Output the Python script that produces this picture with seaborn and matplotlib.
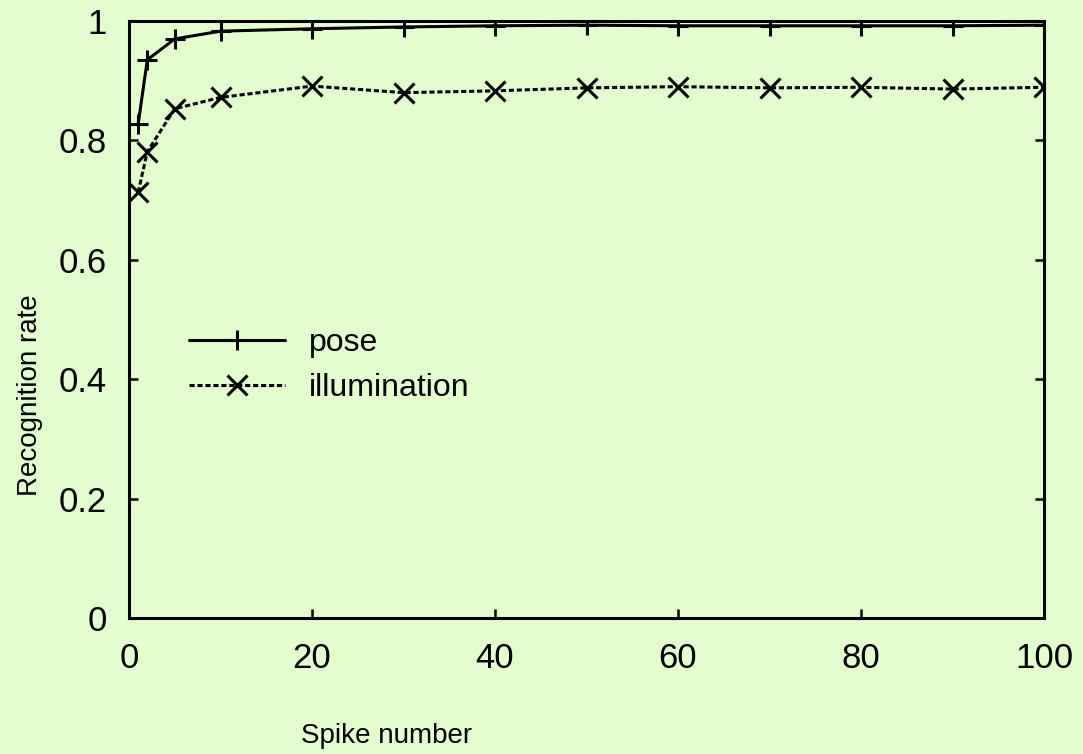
import pandas as pd
import matplotlib
matplotlib.use("Agg")
import matplotlib.pyplot as plt
import seaborn as sns

# values
spikes = [1, 2, 5, 10, 20, 30, 40, 50, 60, 70, 80, 90, 100]
pose = [0.827, 0.935, 0.970, 0.983, 0.987, 0.990, 0.992, 0.993, 0.992, 0.992, 0.992, 0.992, 0.993]
illumination = [0.713, 0.781, 0.853, 0.872, 0.891, 0.880, 0.883, 0.888, 0.890, 0.888, 0.889, 0.886, 0.889]
x_ticks = [0, 20, 40, 60, 80, 100]
y_ticks = [0, 0.2, 0.4, 0.6, 0.8, 1]
y_tick_labels = ["0", "0.2", "0.4", "0.6", "0.8", "1"]

bg = "#e4fdcf"

sns.set_style("ticks")
plt.rcParams["font.family"] = ["Liberation Sans", "DejaVu Sans"]
plt.rcParams["text.color"] = "black"
plt.rcParams["axes.labelcolor"] = "black"
plt.rcParams["xtick.color"] = "black"
plt.rcParams["ytick.color"] = "black"

df = pd.DataFrame({
    "spike": spikes * 2,
    "rate": pose + illumination,
    "series": ["pose"] * len(spikes) + ["illumination"] * len(spikes),
})

fig = plt.figure(figsize=(10.83, 7.54), dpi=100, facecolor=bg)
ax = fig.add_axes([129 / 1083, 1 - 618 / 754, 915 / 1083, 597 / 754])
ax.set_facecolor(bg)

sns.lineplot(data=df, x="spike", y="rate", style="series", hue="series",
             palette={"pose": "black", "illumination": "black"},
             dashes={"pose": "", "illumination": (1.7, 0.9)},
             markers={"pose": "+", "illumination": "x"},
             markersize=14, markeredgewidth=2.2, markeredgecolor="black",
             linewidth=2.2, ax=ax)

ax.set_xlim(0, 100)
ax.set_ylim(0, 1)
ax.set_xticks(x_ticks)
ax.set_yticks(y_ticks)
ax.set_yticklabels(y_tick_labels)
ax.tick_params(direction="in", length=6.5, width=1.8, labelsize=25,
               top=True, right=True, color="black", labelcolor="black")
ax.tick_params(axis="x", pad=17)
ax.tick_params(axis="y", pad=16)
for s in ax.spines.values():
    s.set_linewidth(2.2)
    s.set_color("black")
    s.set_visible(True)

ax.set_xlabel("Spike number", fontsize=20)
ax.set_ylabel("Recognition rate", fontsize=20)
ax.xaxis.set_label_coords(0.282, -0.176)
ax.yaxis.set_label_coords(-0.094, 0.373)

leg = ax.legend(loc="upper left", bbox_to_anchor=(0.066, 0.485), frameon=False,
                fontsize=23, handlelength=3.0, handletextpad=0.75,
                labelspacing=0.45, borderpad=0, borderaxespad=0, title=None)
for h in leg.get_lines():
    h.set_markeredgecolor("black")

fig.savefig("out.png", dpi=100, facecolor=bg)
